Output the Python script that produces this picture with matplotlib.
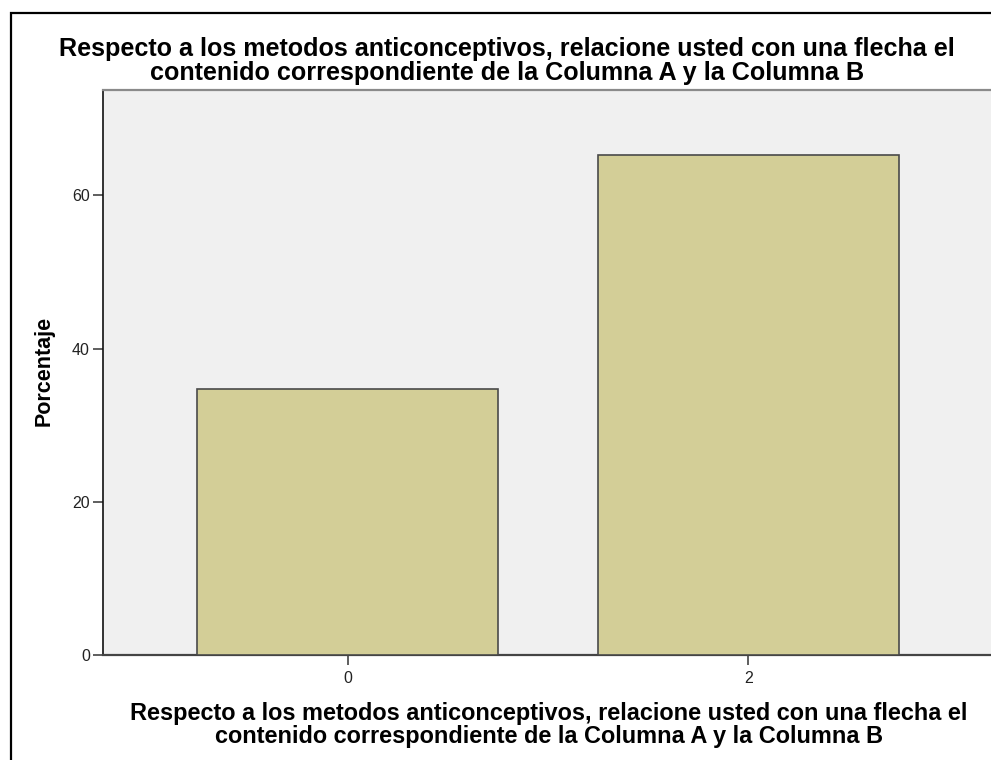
import matplotlib.pyplot as plt
from matplotlib.patches import Rectangle

# Data
categories = ['0', '2']
percentages = [34.7, 65.3]
y_ticks = [0, 20, 40, 60]

title_text = ('Respecto a los metodos anticonceptivos, relacione usted con una flecha el\n'
              'contenido correspondiente de la Columna A y la Columna B')

plt.rcParams['font.family'] = ['Liberation Sans', 'DejaVu Sans']

fig = plt.figure(figsize=(9.91, 7.6), dpi=100)
fig.patch.set_facecolor('white')

# outer black frame (runs off the right and bottom edges)
frame = Rectangle((10.5 / 991, -0.1), 1.2, 1 - 13.5 / 760 + 0.1,
                  transform=fig.transFigure, fill=False,
                  edgecolor='black', linewidth=1.6)
fig.patches.append(frame)

ax = fig.add_axes([103 / 991, 1 - 655 / 760, 892 / 991, 565 / 760])
ax.set_facecolor('#f0f0f0')

x = range(len(categories))
ax.bar(x, percentages, width=0.75, color='#d3ce97',
       edgecolor='#4a4a4a', linewidth=1.2, zorder=3)

ax.set_xlim(-0.61, 1.615)
ax.set_ylim(0, 73.74)
ax.set_xticks(list(x))
ax.set_xticklabels(categories)
ax.set_yticks(y_ticks)

ax.tick_params(axis='both', length=7.2, width=1.1, color='#333333',
               labelsize=11.5, labelcolor='#222222')
ax.tick_params(axis='y', pad=2.2)
ax.tick_params(axis='x', pad=4)

ax.spines['left'].set_color('#111111')
ax.spines['left'].set_linewidth(1.2)
ax.spines['bottom'].set_color('#444444')
ax.spines['bottom'].set_linewidth(1.6)
ax.spines['top'].set_color('#8a8a8a')
ax.spines['top'].set_linewidth(1.6)
ax.spines['right'].set_visible(False)

fig.text(507 / 991, 1 - 37 / 760, title_text, ha='center', va='top',
         fontsize=18.1, fontweight='bold', linespacing=1.0)

ax.set_xlabel(title_text, fontsize=16.9, fontweight='bold', linespacing=1.02)
ax.xaxis.set_label_coords(0.5, -(702 - 655) / 565)
ax.xaxis.label.set_va('top')

ax.set_ylabel('Porcentaje', fontsize=15.5, fontweight='bold')
ax.yaxis.set_label_coords(-(103 - 55) / 892, (655 - 371) / 565)

fig.savefig('out.png', dpi=100)
